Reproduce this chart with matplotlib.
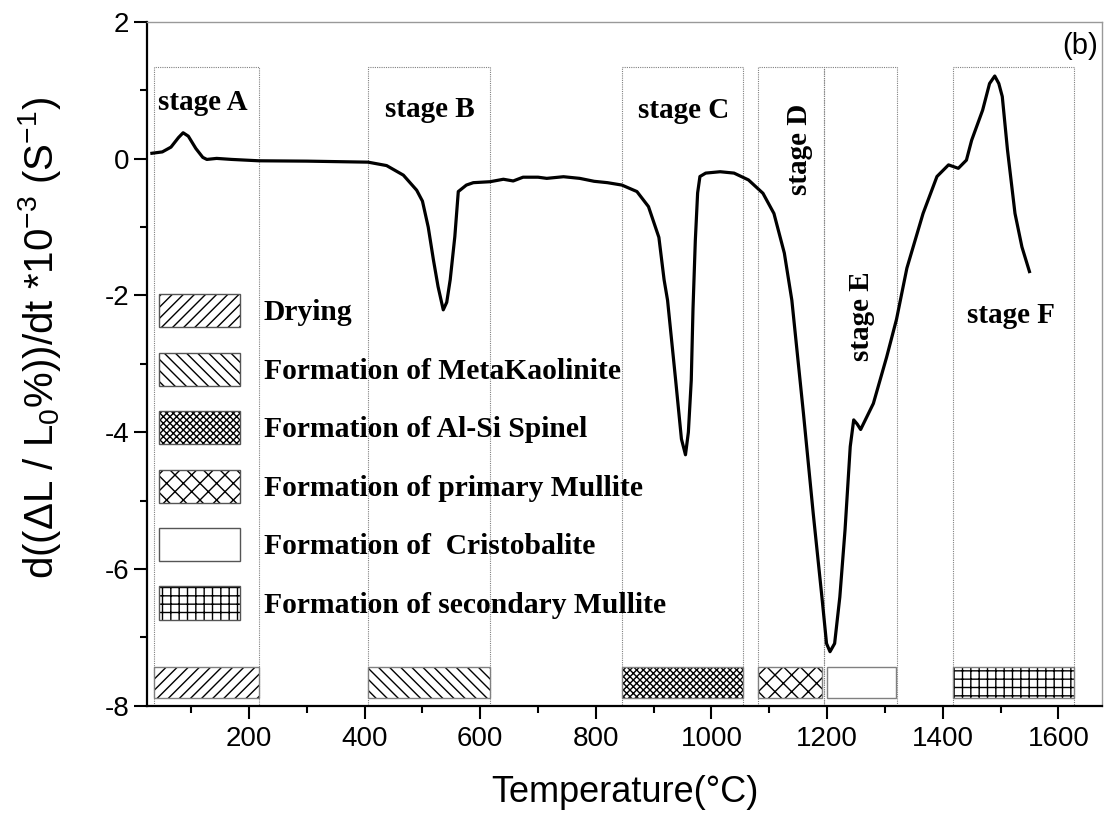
import matplotlib
matplotlib.use("Agg")
import matplotlib.pyplot as plt
from matplotlib.patches import Rectangle
from matplotlib.ticker import MultipleLocator

plt.rcParams['font.family'] = ['Liberation Sans', 'DejaVu Sans']
plt.rcParams['axes.unicode_minus'] = False
plt.rcParams['mathtext.default'] = 'regular'
plt.rcParams['hatch.linewidth'] = 1.0

# ---- data ----
temperature = [32, 50, 65, 78, 86, 95, 108, 120, 127, 144, 170, 217, 300, 406, 438, 467, 490, 500,
               510, 519, 527, 536, 542, 548, 556, 562, 576, 588, 617, 640, 657, 674, 700, 715, 744,
               772, 797, 820, 845, 871, 891, 909, 918, 924, 938, 948, 955, 960, 965, 968, 972, 976,
               980, 990, 1015, 1039, 1064, 1089, 1108, 1126, 1139, 1159, 1176, 1191, 1199, 1205,
               1213, 1222, 1231, 1240, 1246, 1252, 1258, 1280, 1303, 1320, 1338, 1366, 1390, 1410,
               1427, 1441, 1450, 1469, 1481, 1490, 1497, 1503, 1512, 1525, 1537, 1550]
dLdt = [0.08, 0.10, 0.17, 0.31, 0.38, 0.33, 0.15, 0.02, -0.01, 0.005, -0.01, -0.03, -0.035, -0.05,
        -0.10, -0.24, -0.46, -0.62, -1.0, -1.48, -1.87, -2.21, -2.10, -1.77, -1.14, -0.48, -0.385,
        -0.35, -0.336, -0.30, -0.325, -0.27, -0.27, -0.287, -0.263, -0.287, -0.33, -0.35, -0.385,
        -0.48, -0.70, -1.15, -1.77, -2.07, -3.24, -4.1, -4.33, -4.0, -3.24, -2.2, -1.2, -0.5, -0.26,
        -0.21, -0.19, -0.21, -0.31, -0.505, -0.80, -1.38, -2.07, -3.72, -5.19, -6.41, -7.09, -7.21,
        -7.09, -6.41, -5.43, -4.21, -3.82, -3.88, -3.96, -3.58, -2.9, -2.35, -1.6, -0.80, -0.26,
        -0.09, -0.14, -0.02, 0.27, 0.71, 1.10, 1.21, 1.1, 0.91, 0.13, -0.80, -1.29, -1.65]

stage_names = ['stage A', 'stage B', 'stage C', 'stage D', 'stage E', 'stage F']
stage_start = [35, 406, 845, 1080, 1194, 1417]
stage_end = [217, 616, 1055, 1194, 1321, 1627]
stage_label_x = [120, 513, 952, 1152, 1260, 1518]
stage_label_y = [0.71, 0.61, 0.59, 0.13, -2.31, -2.40]
stage_label_rot = [0, 0, 0, 90, 90, 0]

phase_labels = ['Drying', 'Formation of MetaKaolinite', 'Formation of Al-Si Spinel',
                'Formation of primary Mullite', 'Formation of  Cristobalite',
                'Formation of secondary Mullite']
phase_hatch = ['///', '\\\\\\', 'xxxxx', 'xx', None, '++']
bar_start = [35, 406, 845, 1081, 1199, 1417]
bar_end = [217, 616, 1055, 1191, 1320, 1627]
bar_low, bar_high = -7.89, -7.43
box_top = 1.34

xticks = [200, 400, 600, 800, 1000, 1200, 1400, 1600]
yticks = [-8, -6, -4, -2, 0, 2]

# ---- figure ----
fig = plt.figure(figsize=(11.04, 8.17), dpi=100)
ax = fig.add_axes([0.13288, 0.13623, 0.86504, 0.83684])
ax.set_xlim(23, 1675)
ax.set_ylim(-8, 2)

for s, e in zip(stage_start, stage_end):
    ax.add_patch(Rectangle((s, -8), e - s, box_top + 8, fill=False, edgecolor='#808080',
                           linewidth=0.8, linestyle=(0, (1, 1)), zorder=2))

for s, e, h in zip(bar_start, bar_end, phase_hatch):
    ax.add_patch(Rectangle((s, bar_low), e - s, bar_high - bar_low, facecolor='white',
                           edgecolor='black', linewidth=0, hatch=h, zorder=3))
    ax.add_patch(Rectangle((s, bar_low), e - s, bar_high - bar_low, fill=False,
                           edgecolor='#808080', linewidth=1.0, zorder=4))

ax.plot(temperature, dLdt, color='black', linewidth=2.3, zorder=6)

for name, x, y, r in zip(stage_names, stage_label_x, stage_label_y, stage_label_rot):
    if r == 0:
        ax.text(x, y, name, ha='center', va='baseline', fontsize=21, fontweight='bold',
                family=['Liberation Serif'], zorder=7)
    else:
        ax.text(x, y, name, ha='center', va='center', rotation=90, fontsize=21,
                fontweight='bold', family=['Liberation Serif'], zorder=7)

# legend (manual)
leg_x0, leg_w, leg_h = 0.0129, 0.0848, 0.0483
leg_y_top, leg_step = 0.5777, 0.0855
text_x = 0.1228
for i, (lab, h) in enumerate(zip(phase_labels, phase_hatch)):
    yc = leg_y_top - i * leg_step
    ax.add_patch(Rectangle((leg_x0, yc - leg_h / 2), leg_w, leg_h, transform=ax.transAxes,
                           facecolor='white', edgecolor='black', linewidth=0, hatch=h, zorder=3))
    ax.add_patch(Rectangle((leg_x0, yc - leg_h / 2), leg_w, leg_h, transform=ax.transAxes,
                           fill=False, edgecolor='#555555', linewidth=1.0, zorder=4))
    ax.text(text_x, yc - 0.0139, lab, transform=ax.transAxes, ha='left', va='baseline',
            fontsize=21.3, fontweight='bold', family=['Liberation Serif'], zorder=7)

ax.text(0.996, 0.965, '(b)', transform=ax.transAxes, ha='right', va='center', fontsize=21)

# axes styling
ax.set_xticks(xticks)
ax.set_yticks(yticks)
ax.xaxis.set_minor_locator(MultipleLocator(100))
ax.yaxis.set_minor_locator(MultipleLocator(1))
ax.tick_params(which='major', direction='out', length=9.7, width=1.5, labelsize=20, pad=5)
ax.tick_params(which='minor', direction='out', length=5, width=1.5)
ax.tick_params(axis='y', which='major', pad=3)
for side in ['left', 'bottom']:
    ax.spines[side].set_linewidth(1.6)
    ax.spines[side].set_color('black')
for side in ['top', 'right']:
    ax.spines[side].set_linewidth(1.0)
    ax.spines[side].set_color('#999999')

fig.text(625 / 1104, 1 - 793 / 817, 'Temperature(°C)', ha='center', va='center', fontsize=26)
fig.text(40 / 1104, 1 - 338 / 817, 'd((ΔL / L$_0$%))/dt *10$^{-3}$ (S$^{-1}$)', ha='center',
         va='center', rotation=90, fontsize=29)

fig.savefig('out.png', dpi=100)
